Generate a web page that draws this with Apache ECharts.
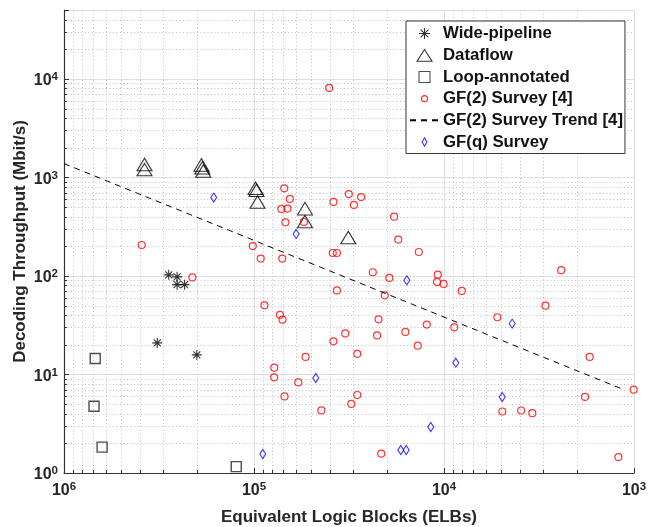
<!DOCTYPE html>
<html>
<head>
<meta charset="utf-8">
<title>Decoding throughput vs equivalent logic blocks</title>
<script src="https://cdn.jsdelivr.net/npm/echarts@6.0.0/dist/echarts.min.js"></script>
<style>
  html, body { margin: 0; padding: 0; background: #fff; }
  #chart { width: 648px; height: 527px; }
</style>
</head>
<body>
<div id="chart"></div>
<script>
// [ELBs, Mbit/s]
const widePipeline = [
  [2.81e5, 102.6], [2.54e5, 97.9], [2.54e5, 81.6], [2.32e5, 81.6],
  [3.23e5, 20.9], [2.0e5, 15.8]
]
const dataflow = [
  [3.77e5, 1349], [3.77e5, 1200], [1.89e5, 1340], [1.87e5, 1250], [1.85e5, 1160],
  [9.82e4, 775], [9.7e4, 740], [9.58e4, 562], [5.39e4, 482], [5.39e4, 356],
  [3.19e4, 245]
]
const loopAnnotated = [
  [6.85e5, 14.5], [6.95e5, 4.75], [6.3e5, 1.83], [1.24e5, 1.16]
]
const gf2Survey = [
  [40200, 8100], [3.9e5, 206], [2.11e5, 96.6], [1.015e5, 201], [92200, 150],
  [71000, 150], [69300, 775], [64800, 605], [71800, 479], [66700, 483],
  [68300, 350], [54600, 353], [38200, 564], [31700, 677], [27300, 631],
  [29800, 526], [18300, 399], [17400, 234], [13570, 175], [38500, 171],
  [36600, 171], [23700, 109], [19400, 95.4], [10780, 103], [10880, 86.9],
  [10040, 82.9], [36600, 71.3], [20500, 63.5], [8060, 70.4], [2416, 114.5],
  [2923, 49.9], [22100, 36.3], [5240, 38.1], [33100, 26.1], [38200, 21.7],
  [22500, 24.9], [15970, 27.0], [12320, 32.1], [8830, 30.1], [28600, 16.2],
  [13750, 19.6], [1711, 15.06], [28600, 6.19], [30750, 5.02], [4934, 4.21],
  [3925, 4.31], [3430, 4.05], [1811, 5.91], [1004, 7.01], [21400, 1.57],
  [1209, 1.45], [88100, 50.3], [73000, 40.3], [70800, 36.0], [53500, 15.06],
  [78200, 11.73], [78300, 9.35], [58500, 8.30], [69100, 5.99], [44200, 4.32]
]
const gf2Trend = [[1e6, 1380], [1150, 7.1]]
const gfqSurvey = [
  [1.63e5, 624], [60000, 267], [47300, 9.21], [89900, 1.56], [15700, 90.2],
  [4377, 32.8], [8668, 13.18], [4939, 5.91], [11740, 2.93], [16880, 1.71],
  [15810, 1.71]
]
const seriesNames = [
  'Wide-pipeline', 'Dataflow', 'Loop-annotated',
  'GF(2) Survey [4]', 'GF(2) Survey Trend [4]', 'GF(q) Survey'
]

const X_MIN = 1e3
const X_MAX = 1e6
const Y_MIN = 1
const Y_MAX = 5e4

const FONT = 'Liberation Sans, Arial, Helvetica, sans-serif'
const TEXT = '#262626'
const AXIS = '#333'
const MAJOR_GRID = '#dedede'
const MINOR_GRID = '#bfbfbf'

// minor (2..9 x 10^k) positions for the dotted grid
function minorValues(lo, hi) {
  const out = []
  for (let d = lo; d < hi; d *= 10) {
    for (let m = 2; m <= 9; m++) {
      if (m * d < hi) out.push(m * d)
    }
  }
  return out
}
const minorX = minorValues(X_MIN, X_MAX)
const minorY = minorValues(Y_MIN, Y_MAX)

function powLabel(v) {
  const lg = Math.log10(v)
  const e = Math.round(lg)
  if (Math.abs(lg - e) > 1e-6) return ''
  return '{b|10}{s|' + e + '}'
}

const labelRich = {
  b: { fontSize: 16, fontWeight: 'bold', fontFamily: FONT, color: TEXT, lineHeight: 16, padding: [4, 0, 0, 0] },
  s: { fontSize: 11.5, fontWeight: 'bold', fontFamily: FONT, color: TEXT, lineHeight: 12, verticalAlign: 'top' }
}

function minorXItem(params, api) {
  const v = api.value(0)
  const b = api.coord([v, Y_MIN])
  const t = api.coord([v, Y_MAX])
  const x = Math.round(b[0]) + 0.5
  return {
    type: 'group',
    children: [
      { type: 'line', shape: { x1: x, y1: t[1], x2: x, y2: b[1] }, style: { stroke: MINOR_GRID, lineWidth: 1, lineDash: [1, 2.5] } },
      { type: 'line', shape: { x1: x, y1: b[1], x2: x, y2: b[1] - 3 }, style: { stroke: AXIS, lineWidth: 1 } }
    ]
  }
}

function minorYItem(params, api) {
  const v = api.value(1)
  const l = api.coord([X_MAX, v])
  const r = api.coord([X_MIN, v])
  const y = Math.round(l[1]) + 0.5
  return {
    type: 'group',
    children: [
      { type: 'line', shape: { x1: l[0], y1: y, x2: r[0], y2: y }, style: { stroke: MINOR_GRID, lineWidth: 1, lineDash: [1, 2.5] } },
      { type: 'line', shape: { x1: l[0], y1: y, x2: l[0] + 3, y2: y }, style: { stroke: AXIS, lineWidth: 1 } }
    ]
  }
}

// legend icons drawn in a 16x16 box (the leading moves pin the box size)
const legendIcons = [
  'path://M0,0M16,16M8,2.5L8,13.5M2.5,8L13.5,8M4.1,4.1L11.9,11.9M4.1,11.9L11.9,4.1',
  'path://M0,0M16,16M0.5,14L8,2.3L15.5,14Z',
  'path://M0,0M16,16M2.5,2.5L13.5,2.5L13.5,13.5L2.5,13.5Z',
  'path://M0,0M16,16M11,8A3,3,0,1,1,5,8A3,3,0,1,1,11,8Z',
  null,
  'path://M0,0M16,16M8,3.8L10.4,8L8,12.2L5.6,8Z'
]

const chart = echarts.init(document.getElementById('chart'), null, { renderer: 'canvas' })

const option = {
  animation: false,
  backgroundColor: '#fff',
  textStyle: { fontFamily: FONT },
  grid: {
    left: 64, right: 14, top: 10, bottom: 54,
    containLabel: false, outerBoundsMode: 'none'
  },
  legend: {
    orient: 'vertical',
    left: 406,
    top: 21,
    padding: [4, 2, 3, 3],
    itemWidth: 29,
    itemHeight: 16,
    itemGap: 4.6,
    backgroundColor: '#fff',
    borderColor: AXIS,
    borderWidth: 1,
    borderRadius: 0,
    itemStyle: { borderWidth: 1.1 },
    textStyle: { fontSize: 16.8, fontWeight: 'bold', fontFamily: FONT, color: '#111', padding: [0, 0, 0, -1] },
    data: seriesNames.map((name, i) => legendIcons[i]
      ? { name, icon: legendIcons[i] }
      : { name, itemStyle: { opacity: 0 } })
  },
  xAxis: {
    type: 'log',
    logBase: 10,
    min: X_MIN,
    max: X_MAX,
    inverse: true,
    name: 'Equivalent Logic Blocks (ELBs)',
    nameLocation: 'middle',
    nameGap: 36,
    nameMoveOverlap: false,
    nameTextStyle: { fontSize: 17, fontWeight: 'bold', fontFamily: FONT, color: TEXT },
    axisLine: { show: true, onZero: false, lineStyle: { color: AXIS, width: 1.2 } },
    axisTick: { show: true, inside: true, length: 5, lineStyle: { color: AXIS } },
    axisLabel: { show: true, margin: 8, formatter: powLabel, rich: labelRich },
    splitLine: { show: true, lineStyle: { color: MAJOR_GRID, width: 1 } },
    minorTick: { show: false },
    minorSplitLine: { show: false }
  },
  yAxis: {
    type: 'log',
    logBase: 10,
    min: Y_MIN,
    max: Y_MAX,
    name: 'Decoding Throughput (Mbit/s)',
    nameLocation: 'middle',
    nameGap: 35,
    nameMoveOverlap: false,
    nameRotate: 90,
    nameTextStyle: { fontSize: 17, fontWeight: 'bold', fontFamily: FONT, color: TEXT },
    axisLine: { show: true, onZero: false, lineStyle: { color: AXIS, width: 1.2 } },
    axisTick: { show: true, inside: true, length: 5, lineStyle: { color: AXIS } },
    axisLabel: { show: true, margin: 6, formatter: powLabel, rich: labelRich },
    splitLine: { show: true, lineStyle: { color: MAJOR_GRID, width: 1 } },
    minorTick: { show: false },
    minorSplitLine: { show: false }
  },
  series: [
    {
      type: 'custom',
      silent: true,
      z: 1,
      renderItem: minorXItem,
      data: minorX.map(v => [v, Y_MIN])
    },
    {
      type: 'custom',
      silent: true,
      z: 1,
      renderItem: minorYItem,
      data: minorY.map(v => [X_MAX, v])
    },
    {
      name: seriesNames[0],
      type: 'scatter',
      symbol: 'path://M0,-10L0,10M-10,0L10,0M-7.07,-7.07L7.07,7.07M-7.07,7.07L7.07,-7.07',
      symbolSize: 10,
      itemStyle: { color: 'transparent', borderColor: '#000', borderWidth: 1.1 },
      data: widePipeline
    },
    {
      name: seriesNames[1],
      type: 'scatter',
      symbol: 'triangle',
      symbolSize: [15, 12.5],
      itemStyle: { color: 'transparent', borderColor: '#000', borderWidth: 1.1 },
      data: dataflow
    },
    {
      name: seriesNames[2],
      type: 'scatter',
      symbol: 'rect',
      symbolSize: 10,
      itemStyle: { color: 'transparent', borderColor: '#222', borderWidth: 1.4 },
      data: loopAnnotated
    },
    {
      name: seriesNames[3],
      type: 'scatter',
      symbol: 'circle',
      symbolSize: 7,
      itemStyle: { color: 'transparent', borderColor: '#ff0000', borderWidth: 1.2 },
      data: gf2Survey
    },
    {
      name: seriesNames[4],
      type: 'line',
      symbol: 'none',
      showSymbol: false,
      lineStyle: { color: '#000', width: 1, type: [6, 5] },
      itemStyle: { color: '#000' },
      data: gf2Trend
    },
    {
      name: seriesNames[5],
      type: 'scatter',
      symbol: 'diamond',
      symbolSize: [6, 9],
      itemStyle: { color: 'transparent', borderColor: '#0000ff', borderWidth: 1.1 },
      data: gfqSurvey
    }
  ]
}

chart.setOption(option)
</script>
</body>
</html>
